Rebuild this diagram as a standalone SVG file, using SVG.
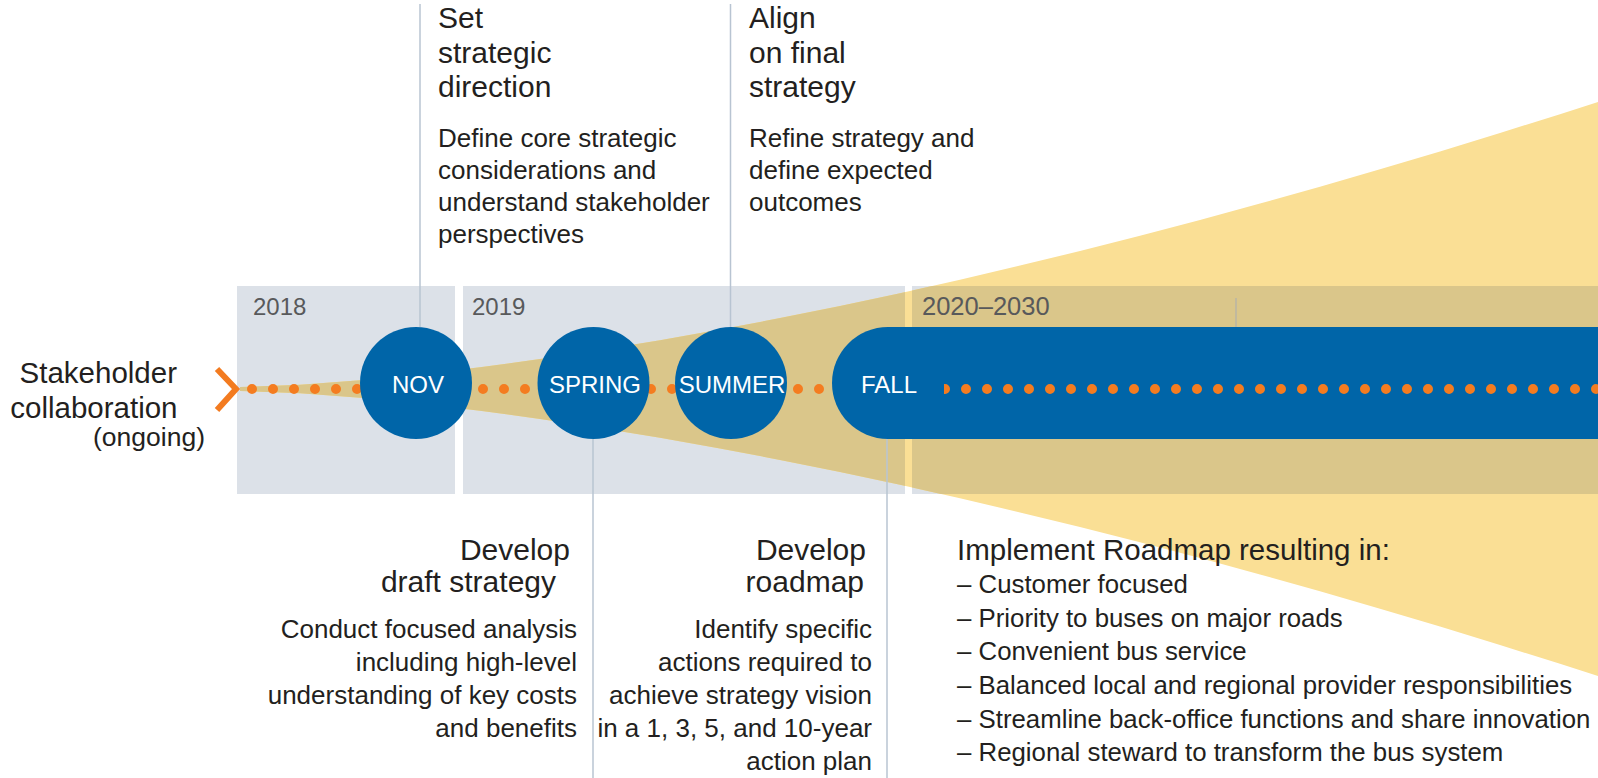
<svg xmlns="http://www.w3.org/2000/svg" width="1598" height="778" viewBox="0 0 1598 778">
<style>
text{font-family:"Liberation Sans",Arial,sans-serif;fill:#231f20}
.yr{font-size:24px;fill:#58595b}
.yr2{font-size:25.5px;fill:#58595b}
.ttl{font-size:30px}
.dsc{font-size:26px}
.lst{font-size:25.8px}
.lbl{font-size:24px;fill:#ffffff;text-anchor:middle}
.end{text-anchor:end}
.vl{stroke:#b8c4d2;stroke-width:1.5;fill:none}
.dots{stroke:#f47c20;stroke-width:10;stroke-linecap:round;stroke-dasharray:0 21;fill:none}
.blue{fill:#0065a8}
</style>
<defs>
<path id="cone" d="M240,387 L300,384.7 L360,380.2 L420,374.3 L480,367.2 L540,359.1 L600,350.1 L660,340.2 L720,329.5 L780,318.1 L840,306 L900,293.2 L960,279.7 L1020,265.6 L1080,251 L1140,235.8 L1200,219.9 L1260,203.6 L1320,186.7 L1380,169.3 L1440,151.4 L1500,133 L1560,114.2 L1598,102 L1598,676 L1560,663.8 L1500,645 L1440,626.6 L1380,608.7 L1320,591.3 L1260,574.4 L1200,558.1 L1140,542.2 L1080,527 L1020,512.4 L960,498.3 L900,484.8 L840,472 L780,459.9 L720,448.5 L660,437.8 L600,427.9 L540,418.9 L480,410.8 L420,403.7 L360,397.8 L300,393.3 L240,391 Z"/>
<clipPath id="boxclip">
<rect x="237" y="286" width="218" height="208"/>
<rect x="463" y="286" width="442" height="208"/>
<rect x="912" y="286" width="686" height="208"/>
</clipPath>
<clipPath id="barclip"><rect x="944" y="330" width="660" height="110"/></clipPath>
</defs>

<g id="background">
<g id="year-2018">
<rect x="237" y="286" width="218" height="208" fill="#dce1e8"/>
<text class="yr" x="253" y="315">2018</text>
</g>
<g id="year-2019">
<rect x="463" y="286" width="442" height="208" fill="#dce1e8"/>
<text class="yr" x="472" y="315">2019</text>
</g>
<g id="year-2020-2030">
<rect x="912" y="286" width="686" height="208" fill="#dce1e8"/>
</g>
<g id="cone-shape">
<use href="#cone" fill="#fadf95"/>
<use href="#cone" fill="#dac68a" clip-path="url(#boxclip)"/>
</g>
<text class="yr2" x="922" y="315">2020–2030</text>
<line x1="1236" y1="298" x2="1236" y2="327" stroke="#b9b4a4" stroke-width="1.5"/>
</g>

<g id="connectors">
<polyline points="217,369 236,389 217,410" fill="none" stroke="#f37b20" stroke-width="6" stroke-linejoin="miter"/>
<line class="dots" x1="252" y1="389" x2="1600" y2="389"/>
<line class="vl" x1="420" y1="4" x2="420" y2="327"/>
<line class="vl" x1="730.5" y1="4" x2="730.5" y2="327"/>
<line class="vl" x1="593" y1="439" x2="593" y2="778"/>
<line class="vl" x1="887" y1="439" x2="887" y2="778"/>
</g>

<g id="node-stakeholder">
<text class="end" x="177" y="383" font-size="29.5">Stakeholder</text>
<text class="end" x="177.5" y="418" font-size="29.5">collaboration</text>
<text class="end" x="205" y="446" font-size="26.5">(ongoing)</text>
</g>

<g id="node-nov">
<circle class="blue" cx="416" cy="383" r="56"/>
<text class="lbl" x="418" y="393">NOV</text>
</g>
<g id="node-spring">
<circle class="blue" cx="593.5" cy="383" r="56"/>
<text class="lbl" x="595" y="393">SPRING</text>
</g>
<g id="node-summer">
<circle class="blue" cx="731" cy="383" r="56"/>
<text class="lbl" x="732" y="393">SUMMER</text>
</g>
<g id="node-fall">
<path class="blue" d="M1598,327 H888 A56,56 0 0 0 888,439 H1598 Z"/>
<text class="lbl" x="889" y="393">FALL</text>
<line class="dots" x1="945" y1="389" x2="1600" y2="389" clip-path="url(#barclip)"/>
</g>

<g id="note-set-direction">
<text class="ttl" x="438" y="28">Set</text>
<text class="ttl" x="438" y="63">strategic</text>
<text class="ttl" x="438" y="97">direction</text>
<text class="dsc" x="438" y="147">Define core strategic</text>
<text class="dsc" x="438" y="179">considerations and</text>
<text class="dsc" x="438" y="211">understand stakeholder</text>
<text class="dsc" x="438" y="243">perspectives</text>
</g>

<g id="note-align">
<text class="ttl" x="749" y="28">Align</text>
<text class="ttl" x="749" y="63">on final</text>
<text class="ttl" x="749" y="97">strategy</text>
<text class="dsc" x="749" y="147">Refine strategy and</text>
<text class="dsc" x="749" y="179">define expected</text>
<text class="dsc" x="749" y="211">outcomes</text>
</g>

<g id="note-draft">
<text class="ttl end" x="570" y="560">Develop</text>
<text class="ttl end" x="556" y="592">draft strategy</text>
<text class="dsc end" x="577" y="638">Conduct focused analysis</text>
<text class="dsc end" x="577" y="671">including high-level</text>
<text class="dsc end" x="577" y="704">understanding of key costs</text>
<text class="dsc end" x="577" y="737">and benefits</text>
</g>

<g id="note-roadmap">
<text class="ttl end" x="866" y="560">Develop</text>
<text class="ttl end" x="864" y="592">roadmap</text>
<text class="dsc end" x="872" y="638">Identify specific</text>
<text class="dsc end" x="872" y="671">actions required to</text>
<text class="dsc end" x="872" y="704">achieve strategy vision</text>
<text class="dsc end" x="872" y="737">in a 1, 3, 5, and 10-year</text>
<text class="dsc end" x="872" y="770">action plan</text>
</g>

<g id="note-implement">
<text x="957" y="560" font-size="29.5">Implement Roadmap resulting in:</text>
<text class="lst" x="957" y="593">– Customer focused</text>
<text class="lst" x="957" y="627">– Priority to buses on major roads</text>
<text class="lst" x="957" y="660">– Convenient bus service</text>
<text class="lst" x="957" y="694">– Balanced local and regional provider responsibilities</text>
<text class="lst" x="957" y="728">– Streamline back-office functions and share innovation</text>
<text class="lst" x="957" y="761">– Regional steward to transform the bus system</text>
</g>
</svg>
